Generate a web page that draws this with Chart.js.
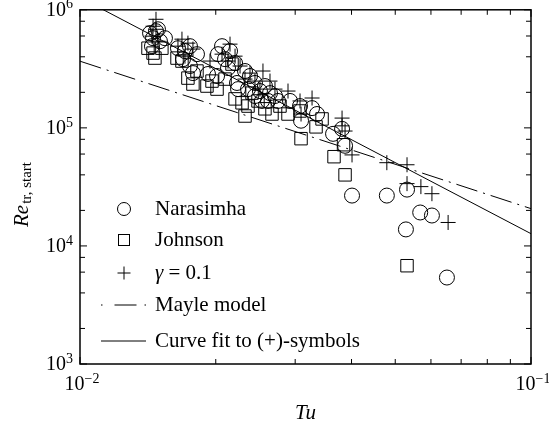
<!DOCTYPE html>
<html>
<head>
<meta charset="utf-8">
<script src="https://cdn.jsdelivr.net/npm/chart.js@4.4.0/dist/chart.umd.min.js"></script>
<style>
  html, body { margin: 0; padding: 0; background: #fff; }
  #wrap { width: 549px; height: 427px; }
</style>
</head>
<body>
<div id="wrap"><canvas id="chart" width="549" height="427"></canvas></div>
<script>
// Narasimha (circles)
const narTu = [0.01430, 0.01452, 0.01474, 0.01504, 0.01543, 0.01444, 0.01489,
  0.01649, 0.01709, 0.01753, 0.01817, 0.01753, 0.01780, 0.01692,
  0.02023, 0.02097, 0.02207, 0.02129, 0.01922, 0.02013, 0.02229, 0.02241, 0.02065, 0.02151, 0.02322,
  0.02382, 0.02443, 0.02506, 0.02571, 0.02638, 0.02443, 0.02532, 0.02706, 0.02358, 0.02611, 0.02748,
  0.02922, 0.03091, 0.03270, 0.03354, 0.03075,
  0.03640, 0.03811, 0.03870,
  0.0401, 0.0479, 0.0531, 0.0568, 0.0603, 0.0528, 0.0651];
const narRe = [6.34e5, 5.75e5, 6.59e5, 5.42e5, 5.75e5, 4.92e5, 6.84e5,
  4.73e5, 4.47e5, 4.92e5, 4.21e5, 3.34e5, 2.91e5, 3.82e5,
  4.21e5, 3.82e5, 3.54e5, 3.21e5, 2.86e5, 2.75e5, 2.40e5, 2.13e5, 4.92e5, 4.47e5, 3.03e5,
  2.75e5, 2.40e5, 2.05e5, 2.26e5, 1.97e5, 1.86e5, 1.69e5, 1.86e5, 2.13e5, 1.69e5, 1.69e5,
  1.69e5, 1.15e5, 1.47e5, 1.31e5, 1.53e5,
  8.9e4, 9.8e4, 7.05e4,
  2.67e4, 2.67e4, 3.0e4, 1.92e4, 1.81e4, 1.38e4, 5.4e3];

// Johnson (squares)
const johTu = [0.01415, 0.01466, 0.01519, 0.01452,
  0.01641, 0.01683, 0.01735, 0.01780, 0.01817,
  0.01912, 0.02013, 0.02207, 0.02287, 0.02173, 0.02097, 0.01962,
  0.02358, 0.02322, 0.02665, 0.02892, 0.02481, 0.02571, 0.02776, 0.02407,
  0.03337, 0.03091, 0.03441, 0.03075,
  0.03658, 0.03840, 0.03870, 0.0531];
const johRe = [4.73e5, 3.90e5, 4.73e5, 4.30e5,
  3.90e5, 3.68e5, 2.64e5, 2.35e5, 3.03e5,
  2.26e5, 2.13e5, 1.76e5, 1.63e5, 3.47e5, 2.59e5, 2.49e5,
  1.53e5, 1.26e5, 1.31e5, 1.31e5, 1.69e5, 1.45e5, 1.53e5, 1.97e5,
  1.02e5, 8.1e4, 1.19e5, 1.39e5,
  5.7e4, 7.2e4, 4.0e4, 6.8e3];

// gamma = 0.1 (plus)
const gamTu = [0.01474, 0.01474, 0.01444, 0.01489, 0.01452,
  0.01683, 0.01735, 0.01780, 0.01709, 0.01649,
  0.02151, 0.02065, 0.02129, 0.02207, 0.02264, 0.01942,
  0.02545, 0.02382, 0.02443, 0.02638, 0.02706, 0.02506, 0.02322,
  0.02892, 0.03270, 0.03075, 0.03091,
  0.03811, 0.03811, 0.0401, 0.03870,
  0.0479, 0.0531, 0.0531, 0.0570, 0.0603, 0.0655];
const gamRe = [8.31e5, 6.84e5, 5.98e5, 5.42e5, 7.26e5,
  5.64e5, 5.22e5, 4.65e5, 4.05e5, 4.92e5,
  5.12e5, 4.21e5, 3.68e5, 4.05e5, 3.34e5, 3.68e5,
  3.03e5, 2.91e5, 2.49e5, 2.49e5, 2.13e5, 2.13e5, 2.59e5,
  2.05e5, 1.79e5, 1.69e5, 1.31e5,
  1.21e5, 1.04e5, 5.9e4, 9.4e4,
  5.07e4, 4.87e4, 3.37e4, 3.18e4, 2.77e4, 1.58e4];

// Mayle model and curve fit (end points)
const mayleTu = [0.01, 0.1];
const mayleRe = [3.67e5, 2.07e4];
const fitTu = [0.01, 0.1];
const fitRe = [1.27e6, 1.27e4];

// axis ticks
const xTicks = [0.01, 0.02, 0.03, 0.04, 0.05, 0.06, 0.07, 0.08, 0.09, 0.1];
const yTicks = [1e3, 2e3, 4e3, 6e3, 8e3, 1e4, 2e4, 4e4, 6e4, 8e4,
  1e5, 2e5, 4e5, 6e5, 8e5, 1e6];
const xLabelVals = [0.01, 0.1];
const xLabelExp = ['\u22122', '\u22121'];
const yLabelVals = [1e3, 1e4, 1e5, 1e6];
const yLabelExp = ['3', '4', '5', '6'];

const SERIF = '"Liberation Serif", "Times New Roman", serif';

function pts(xs, ys) {
  return xs.map((x, i) => ({ x: x, y: ys[i] }));
}

function isMajor(v) {
  const l = Math.log10(v);
  return Math.abs(l - Math.round(l)) < 1e-9;
}

// draw "10" with a superscript, anchored by align
function powerLabel(ctx, x, y, exp, align) {
  ctx.font = '20px ' + SERIF;
  const w1 = ctx.measureText('10').width;
  ctx.font = '14px ' + SERIF;
  const w2 = ctx.measureText(exp).width;
  let x0 = x;
  if (align === 'center') x0 = x - (w1 + w2) / 2;
  if (align === 'right') x0 = x - (w1 + w2);
  ctx.textAlign = 'left';
  ctx.textBaseline = 'middle';
  ctx.font = '20px ' + SERIF;
  ctx.fillText('10', x0, y);
  ctx.font = '14px ' + SERIF;
  ctx.fillText(exp, x0 + w1, y - 6);
}

const decor = {
  id: 'decor',
  afterDraw(chart) {
    const ctx = chart.ctx;
    const a = chart.chartArea;
    const sx = chart.scales.x, sy = chart.scales.y;
    ctx.save();
    ctx.fillStyle = '#000';
    ctx.strokeStyle = '#000';

    // frame
    ctx.lineWidth = 1.5;
    ctx.strokeRect(a.left, a.top, a.right - a.left, a.bottom - a.top);

    // inward ticks on all sides
    ctx.lineWidth = 1;
    ctx.beginPath();
    xTicks.forEach(v => {
      const p = sx.getPixelForValue(v);
      const len = isMajor(v) ? 7 : 5;
      ctx.moveTo(p, a.bottom); ctx.lineTo(p, a.bottom - len);
      ctx.moveTo(p, a.top); ctx.lineTo(p, a.top + len);
    });
    yTicks.forEach(v => {
      const p = sy.getPixelForValue(v);
      const len = isMajor(v) ? 7 : 5;
      ctx.moveTo(a.left, p); ctx.lineTo(a.left + len, p);
      ctx.moveTo(a.right, p); ctx.lineTo(a.right - len, p);
    });
    ctx.stroke();

    // tick labels
    xLabelVals.forEach((v, i) => {
      powerLabel(ctx, sx.getPixelForValue(v) + 2, a.bottom + 21, xLabelExp[i], 'center');
    });
    yLabelVals.forEach((v, i) => {
      powerLabel(ctx, a.left - 7, sy.getPixelForValue(v) + 1, yLabelExp[i], 'right');
    });

    // x title
    ctx.font = 'italic 21px ' + SERIF;
    ctx.textAlign = 'center';
    ctx.textBaseline = 'middle';
    ctx.fillText('Tu', (a.left + a.right) / 2, 413);

    // y title, rotated
    ctx.save();
    ctx.translate(22, 195);
    ctx.rotate(-Math.PI / 2);
    ctx.font = 'italic 21px ' + SERIF;
    const wRe = ctx.measureText('Re').width;
    ctx.font = '15px ' + SERIF;
    const wSub = ctx.measureText('tr, start').width;
    const x0 = -(wRe + wSub) / 2;
    ctx.textAlign = 'left';
    ctx.textBaseline = 'middle';
    ctx.font = 'italic 21px ' + SERIF;
    ctx.fillText('Re', x0, 0);
    ctx.font = '15px ' + SERIF;
    ctx.fillText('tr, start', x0 + wRe + 1, 5);
    ctx.restore();

    // legend
    const lx = 124, tx = 155;
    const rows = [209, 240, 273, 305, 341];
    ctx.lineWidth = 1;
    ctx.beginPath();
    ctx.arc(lx, rows[0], 6.5, 0, Math.PI * 2);
    ctx.stroke();
    ctx.strokeRect(lx - 5.5, rows[1] - 5.5, 11, 11);
    ctx.beginPath();
    ctx.moveTo(lx - 6.5, rows[2]); ctx.lineTo(lx + 6.5, rows[2]);
    ctx.moveTo(lx, rows[2] - 6.5); ctx.lineTo(lx, rows[2] + 6.5);
    ctx.stroke();
    ctx.setLineDash([1.5, 12, 22, 8]);
    ctx.beginPath();
    ctx.moveTo(101, rows[3]); ctx.lineTo(146, rows[3]);
    ctx.stroke();
    ctx.setLineDash([]);
    ctx.beginPath();
    ctx.moveTo(101, rows[4]); ctx.lineTo(146, rows[4]);
    ctx.stroke();

    ctx.textAlign = 'left';
    ctx.textBaseline = 'middle';
    ctx.font = '21px ' + SERIF;
    ctx.fillText('Narasimha', tx, rows[0]);
    ctx.fillText('Johnson', tx, rows[1]);
    ctx.font = 'italic 21px ' + SERIF;
    ctx.fillText('\u03b3', tx, rows[2]);
    const wg = ctx.measureText('\u03b3').width;
    ctx.font = '21px ' + SERIF;
    ctx.fillText(' = 0.1', tx + wg, rows[2]);
    ctx.fillText('Mayle model', tx, rows[3]);
    ctx.fillText('Curve fit to (+)-symbols', tx, rows[4]);

    ctx.restore();
  }
};

new Chart(document.getElementById('chart'), {
  type: 'scatter',
  data: {
    datasets: [
      {
        label: 'Mayle model',
        data: pts(mayleTu, mayleRe),
        showLine: true,
        borderColor: '#000',
        borderWidth: 1,
        borderDash: [22, 6, 2, 6],
        pointRadius: 0
      },
      {
        label: 'Curve fit to (+)-symbols',
        data: pts(fitTu, fitRe),
        showLine: true,
        borderColor: '#000',
        borderWidth: 1,
        pointRadius: 0
      },
      {
        label: 'Narasimha',
        data: pts(narTu, narRe),
        pointStyle: 'circle',
        pointRadius: 7.5,
        pointBorderWidth: 1,
        pointBorderColor: '#000',
        pointBackgroundColor: 'rgba(0,0,0,0)'
      },
      {
        label: 'Johnson',
        data: pts(johTu, johRe),
        pointStyle: 'rect',
        pointRadius: 8.8,
        pointBorderWidth: 1,
        pointBorderColor: '#000',
        pointBackgroundColor: 'rgba(0,0,0,0)'
      },
      {
        label: '\u03b3 = 0.1',
        data: pts(gamTu, gamRe),
        pointStyle: 'cross',
        pointRadius: 7.5,
        pointBorderWidth: 1,
        pointBorderColor: '#000',
        pointBackgroundColor: 'rgba(0,0,0,0)'
      }
    ]
  },
  options: {
    responsive: false,
    animation: false,
    devicePixelRatio: 1,
    layout: { padding: { left: 80, right: 18, top: 8.5, bottom: 63 } },
    plugins: {
      legend: { display: false },
      tooltip: { enabled: false }
    },
    scales: {
      x: {
        type: 'logarithmic',
        min: 0.01,
        max: 0.1,
        grid: { display: false, drawTicks: false, tickLength: 0 },
        border: { display: false },
        ticks: { display: false }
      },
      y: {
        type: 'logarithmic',
        min: 1e3,
        max: 1e6,
        grid: { display: false, drawTicks: false, tickLength: 0 },
        border: { display: false },
        ticks: { display: false }
      }
    }
  },
  plugins: [decor]
});
</script>
</body>
</html>
